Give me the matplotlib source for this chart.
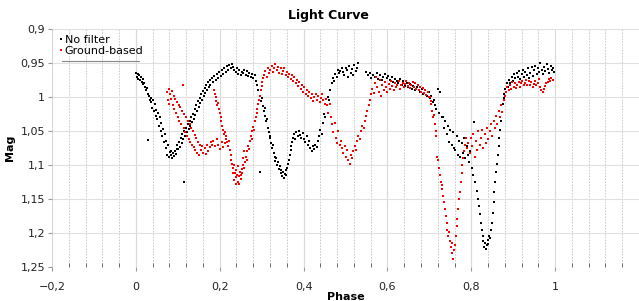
import matplotlib
matplotlib.use("Agg")
from matplotlib import pyplot as plt
from matplotlib.lines import Line2D
from matplotlib.ticker import FuncFormatter, MultipleLocator

# No filter (black)
nofilter_phase = [
    0.000, 0.002, 0.004, 0.006, 0.008, 0.010, 0.012, 0.014, 0.016, 0.018,
    0.020, 0.022, 0.024, 0.026, 0.028, 0.029, 0.031, 0.033, 0.035, 0.037,
    0.039, 0.041, 0.043, 0.045, 0.047, 0.049, 0.051, 0.053, 0.055, 0.057,
    0.059, 0.061, 0.063, 0.065, 0.067, 0.069, 0.071, 0.073, 0.075, 0.077,
    0.079, 0.081, 0.083, 0.085, 0.087, 0.089, 0.091, 0.093, 0.095, 0.097,
    0.099, 0.101, 0.103, 0.105, 0.107, 0.109, 0.111, 0.113, 0.114, 0.116,
    0.118, 0.120, 0.122, 0.124, 0.126, 0.128, 0.130, 0.132, 0.134, 0.136,
    0.138, 0.140, 0.142, 0.144, 0.146, 0.148, 0.150, 0.152, 0.154, 0.156,
    0.158, 0.160, 0.162, 0.164, 0.166, 0.168, 0.170, 0.172, 0.174, 0.176,
    0.178, 0.181, 0.184, 0.187, 0.190, 0.193, 0.196, 0.199, 0.202, 0.205,
    0.208, 0.211, 0.214, 0.217, 0.220, 0.223, 0.226, 0.229, 0.232, 0.235,
    0.238, 0.241, 0.244, 0.247, 0.250, 0.253, 0.256, 0.259, 0.262, 0.265,
    0.268, 0.271, 0.274, 0.277, 0.280, 0.283, 0.286, 0.289, 0.292, 0.295,
    0.297, 0.299, 0.301, 0.303, 0.305, 0.307, 0.309, 0.311, 0.313, 0.315,
    0.317, 0.319, 0.321, 0.323, 0.325, 0.327, 0.329, 0.331, 0.333, 0.335,
    0.337, 0.339, 0.341, 0.343, 0.345, 0.347, 0.349, 0.351, 0.353, 0.355,
    0.357, 0.359, 0.361, 0.363, 0.365, 0.367, 0.369, 0.371, 0.373, 0.375,
    0.377, 0.380, 0.383, 0.386, 0.389, 0.392, 0.395, 0.398, 0.401, 0.404,
    0.407, 0.410, 0.413, 0.416, 0.419, 0.422, 0.425, 0.428, 0.431, 0.434,
    0.437, 0.440, 0.443, 0.446, 0.449, 0.452, 0.455, 0.458, 0.461, 0.464,
    0.467, 0.470, 0.473, 0.476, 0.479, 0.482, 0.485, 0.488, 0.491, 0.494,
    0.497, 0.500, 0.503, 0.506, 0.509, 0.512, 0.515, 0.518, 0.521, 0.524,
    0.527, 0.530, 0.550, 0.554, 0.558, 0.562, 0.566, 0.570, 0.574, 0.578,
    0.582, 0.586, 0.590, 0.594, 0.598, 0.602, 0.606, 0.610, 0.614, 0.618,
    0.622, 0.626, 0.630, 0.634, 0.638, 0.642, 0.646, 0.650, 0.654, 0.658,
    0.662, 0.666, 0.670, 0.674, 0.678, 0.682, 0.686, 0.690, 0.694, 0.698,
    0.702, 0.705, 0.708, 0.711, 0.714, 0.717, 0.720, 0.723, 0.726, 0.729,
    0.732, 0.735, 0.738, 0.741, 0.744, 0.747, 0.750, 0.753, 0.756, 0.759,
    0.762, 0.765, 0.768, 0.771, 0.774, 0.777, 0.780, 0.783, 0.786, 0.789,
    0.792, 0.795, 0.798, 0.801, 0.804, 0.807, 0.810, 0.813, 0.816, 0.819,
    0.821, 0.823, 0.825, 0.827, 0.829, 0.831, 0.833, 0.835, 0.837, 0.839,
    0.841, 0.843, 0.845, 0.847, 0.849, 0.851, 0.853, 0.855, 0.857, 0.859,
    0.861, 0.863, 0.865, 0.867, 0.869, 0.871, 0.873, 0.875, 0.877, 0.879,
    0.881, 0.884, 0.887, 0.890, 0.893, 0.896, 0.899, 0.902, 0.905, 0.908,
    0.911, 0.914, 0.917, 0.920, 0.923, 0.926, 0.929, 0.932, 0.935, 0.938,
    0.941, 0.944, 0.947, 0.950, 0.953, 0.956, 0.959, 0.962, 0.965, 0.968,
    0.971, 0.974, 0.977, 0.980, 0.983, 0.986, 0.989, 0.992, 0.995, 0.998,
]
nofilter_mag = [
    0.964, 0.970, 0.966, 0.973, 0.968, 0.975, 0.971, 0.978, 0.974, 0.981,
    0.979, 0.986, 0.990, 0.987, 0.995, 1.063, 0.999, 1.004, 1.001, 1.008,
    1.016, 1.004, 1.020, 1.010, 1.028, 1.019, 1.032, 1.024, 1.042, 1.030,
    1.050, 1.038, 1.058, 1.047, 1.066, 1.055, 1.075, 1.064, 1.085, 1.070,
    1.088, 1.081, 1.085, 1.079, 1.090, 1.083, 1.087, 1.080, 1.084, 1.077,
    1.070, 1.077, 1.066, 1.073, 1.060, 1.068, 1.055, 1.062, 1.125, 1.050,
    1.058, 1.045, 1.052, 1.040, 1.047, 1.035, 1.042, 1.030, 1.037, 1.025,
    1.032, 1.018, 1.026, 1.012, 1.020, 1.006, 1.014, 1.002, 1.009, 0.996,
    1.004, 0.991, 0.999, 0.987, 0.994, 0.983, 0.990, 0.978, 0.986, 0.975,
    0.982, 0.972, 0.978, 0.969, 0.975, 0.966, 0.972, 0.963, 0.969, 0.960,
    0.966, 0.958, 0.963, 0.955, 0.961, 0.953, 0.958, 0.951, 0.956, 0.960,
    0.963, 0.958, 0.966, 0.961, 0.968, 0.963, 0.965, 0.960, 0.967, 0.962,
    0.969, 0.964, 0.970, 0.966, 0.972, 0.968, 0.976, 0.982, 0.990, 1.110,
    0.998, 1.006, 1.002, 1.013, 1.020, 1.016, 1.028, 1.036, 1.032, 1.045,
    1.052, 1.060, 1.057, 1.068, 1.075, 1.071, 1.082, 1.088, 1.094, 1.090,
    1.100, 1.096, 1.106, 1.102, 1.112, 1.108, 1.116, 1.110, 1.119, 1.113,
    1.107, 1.115, 1.104, 1.098, 1.092, 1.085, 1.078, 1.072, 1.066, 1.060,
    1.055, 1.062, 1.052, 1.058, 1.050, 1.056, 1.060, 1.053, 1.062, 1.066,
    1.058, 1.070, 1.064, 1.075, 1.079, 1.072, 1.076, 1.070, 1.074, 1.064,
    1.058, 1.048, 1.055, 1.038, 1.025, 1.030, 1.012, 1.000, 1.005, 0.990,
    0.980, 0.972, 0.976, 0.966, 0.970, 0.960, 0.965, 0.962, 0.957, 0.963,
    0.968, 0.958, 0.961, 0.970, 0.955, 0.964, 0.959, 0.967, 0.953, 0.962,
    0.957, 0.950, 0.963, 0.968, 0.965, 0.972, 0.967, 0.970, 0.965, 0.973,
    0.968, 0.975, 0.970, 0.966, 0.972, 0.969, 0.975, 0.971, 0.978, 0.973,
    0.976, 0.980, 0.974, 0.982, 0.977, 0.984, 0.979, 0.986, 0.981, 0.988,
    0.984, 0.990, 0.986, 0.982, 0.992, 0.988, 0.995, 0.990, 0.999, 0.993,
    1.002, 0.998, 1.008, 1.004, 1.012, 1.018, 0.988, 1.024, 0.993, 1.030,
    1.030, 1.045, 1.036, 1.055, 1.042, 1.066, 1.048, 1.070, 1.052, 1.075,
    1.078, 1.058, 1.085, 1.064, 1.088, 1.068, 1.082, 1.060, 1.090, 1.072,
    1.086, 1.095, 1.080, 1.105, 1.115, 1.037, 1.125, 1.138, 1.150, 1.160,
    1.172, 1.185, 1.196, 1.205, 1.212, 1.220, 1.215, 1.224, 1.218, 1.210,
    1.216, 1.205, 1.208, 1.196, 1.185, 1.170, 1.155, 1.140, 1.125, 1.110,
    1.098, 1.085, 1.072, 1.060, 1.048, 1.035, 1.022, 1.010, 1.002, 0.995,
    0.988, 0.980, 0.985, 0.975, 0.979, 0.970, 0.976, 0.966, 0.972, 0.964,
    0.970, 0.962, 0.974, 0.966, 0.960, 0.971, 0.963, 0.968, 0.958, 0.972,
    0.964, 0.956, 0.969, 0.960, 0.955, 0.966, 0.958, 0.963, 0.950, 0.960,
    0.966, 0.956, 0.962, 0.952, 0.959, 0.965, 0.955, 0.961, 0.957, 0.963,
]

# Ground-based (red)
ground_phase = [
    0.074, 0.076, 0.078, 0.080, 0.082, 0.084, 0.086, 0.088, 0.090, 0.092,
    0.094, 0.096, 0.098, 0.100, 0.102, 0.104, 0.106, 0.108, 0.110, 0.112,
    0.114, 0.116, 0.118, 0.120, 0.122, 0.124, 0.126, 0.128, 0.130, 0.132,
    0.134, 0.136, 0.138, 0.140, 0.142, 0.144, 0.146, 0.148, 0.150, 0.152,
    0.155, 0.158, 0.161, 0.164, 0.167, 0.170, 0.173, 0.176, 0.179, 0.182,
    0.186, 0.188, 0.190, 0.192, 0.194, 0.196, 0.198, 0.200, 0.202, 0.204,
    0.206, 0.208, 0.210, 0.212, 0.214, 0.216, 0.218, 0.220, 0.222, 0.224,
    0.185, 0.189, 0.193, 0.197, 0.201, 0.205, 0.209, 0.213,
    0.226, 0.228, 0.230, 0.232, 0.234, 0.236, 0.238, 0.240, 0.242, 0.244,
    0.246, 0.248, 0.250, 0.252, 0.254, 0.256, 0.258, 0.260, 0.262, 0.264,
    0.231, 0.235, 0.239, 0.243, 0.247, 0.251, 0.255, 0.259,
    0.266, 0.268, 0.270, 0.272, 0.274, 0.276, 0.278, 0.280, 0.282, 0.284,
    0.286, 0.288, 0.290, 0.292, 0.294, 0.296, 0.298, 0.300, 0.302, 0.304,
    0.306, 0.309, 0.312, 0.315, 0.318, 0.321, 0.324, 0.327, 0.330, 0.333,
    0.336, 0.339, 0.342, 0.345, 0.348, 0.351, 0.354, 0.357, 0.360, 0.363,
    0.366, 0.369, 0.372, 0.375, 0.378, 0.381, 0.384, 0.387, 0.390, 0.393,
    0.396, 0.399, 0.402, 0.405, 0.408, 0.411, 0.414, 0.417, 0.420, 0.423,
    0.426, 0.429, 0.432, 0.435, 0.438, 0.441, 0.444, 0.447, 0.450, 0.453,
    0.456, 0.459, 0.462, 0.465, 0.468, 0.471, 0.474, 0.477, 0.480, 0.483,
    0.486, 0.489, 0.492, 0.495, 0.498, 0.501, 0.504, 0.507, 0.510, 0.513,
    0.516, 0.519, 0.522, 0.525, 0.528, 0.531, 0.534, 0.537, 0.540, 0.543,
    0.546, 0.549, 0.552, 0.555, 0.558, 0.561,
    0.564, 0.567, 0.570, 0.573, 0.576, 0.579, 0.582, 0.585, 0.588, 0.591,
    0.594, 0.597, 0.600, 0.603, 0.606, 0.609, 0.612, 0.615, 0.618, 0.621,
    0.624, 0.627, 0.630, 0.633, 0.636, 0.639, 0.642, 0.645, 0.648, 0.651,
    0.654, 0.657, 0.660, 0.663, 0.666, 0.669, 0.672, 0.675, 0.678, 0.681,
    0.684, 0.687, 0.690, 0.693, 0.696, 0.699,
    0.701, 0.703, 0.705, 0.707, 0.709, 0.711, 0.713, 0.715, 0.717, 0.719,
    0.721, 0.723, 0.725, 0.727, 0.729, 0.731, 0.733, 0.735, 0.737, 0.739,
    0.741, 0.743, 0.745, 0.747, 0.749, 0.751, 0.753, 0.755, 0.757, 0.759,
    0.761, 0.763, 0.765, 0.767, 0.769, 0.771, 0.773, 0.775, 0.777, 0.779,
    0.781, 0.783, 0.785, 0.787,
    0.790, 0.793, 0.796, 0.799, 0.802, 0.805, 0.808, 0.811, 0.814, 0.817,
    0.820, 0.823, 0.826, 0.829, 0.832, 0.835, 0.838, 0.841, 0.844, 0.847,
    0.850, 0.853, 0.856, 0.859, 0.862, 0.865, 0.868, 0.871, 0.874, 0.877,
    0.880, 0.883, 0.886, 0.889, 0.892, 0.895, 0.898, 0.901, 0.904, 0.907,
    0.910, 0.913, 0.916, 0.919, 0.922, 0.925, 0.928, 0.931, 0.934, 0.937,
    0.940, 0.943, 0.946, 0.949, 0.952, 0.955, 0.958, 0.961, 0.964, 0.967,
    0.970, 0.973, 0.976, 0.979, 0.982, 0.985, 0.988, 0.991, 0.994,
]
ground_mag = [
    0.993, 1.004, 0.988, 1.010, 0.996, 1.003, 0.991, 1.012, 0.998, 1.018,
    1.003, 1.024, 1.008, 1.030, 1.012, 1.036, 1.015, 1.040, 1.020, 0.982,
    1.046, 1.025, 1.052, 1.030, 1.058, 1.036, 1.062, 1.040, 1.066, 1.045,
    1.070, 1.050, 1.074, 1.056, 1.078, 1.060, 1.082, 1.066, 1.085, 1.070,
    1.078, 1.072, 1.082, 1.075, 1.084, 1.070, 1.080, 1.074, 1.066, 1.071,
    0.990, 0.996, 1.000, 1.006, 1.012, 1.009, 1.018, 1.024, 1.030, 1.036,
    1.042, 1.048, 1.055, 1.052, 1.062, 1.058, 1.066, 1.072, 1.064, 1.078,
    1.065, 1.072, 1.062, 1.070, 1.076, 1.066, 1.074, 1.068,
    1.085, 1.092, 1.098, 1.105, 1.100, 1.112, 1.108, 1.118, 1.114, 1.125,
    1.116, 1.110, 1.120, 1.106, 1.112, 1.100, 1.104, 1.095, 1.088, 1.092,
    1.112, 1.122, 1.128, 1.102, 1.128, 1.115, 1.090, 1.080,
    1.080, 1.072, 1.076, 1.065, 1.058, 1.062, 1.050, 1.044, 1.048, 1.036,
    1.030, 1.024, 1.018, 1.010, 1.004, 0.998, 0.990, 0.984, 0.978, 0.972,
    0.968, 0.962, 0.970, 0.958, 0.965, 0.960, 0.955, 0.963, 0.958, 0.952,
    0.960, 0.956, 0.964, 0.958, 0.966, 0.962, 0.957, 0.968, 0.963, 0.970,
    0.966, 0.973, 0.968, 0.976, 0.971, 0.980, 0.975, 0.984, 0.978, 0.988,
    0.982, 0.992, 0.986, 0.995, 0.990, 0.998, 0.993, 1.002, 0.996, 1.006,
    1.000, 0.995, 1.004, 0.998, 1.008, 1.002, 0.996, 1.005, 1.010, 1.003,
    1.012, 1.024, 1.010, 1.030, 1.040, 1.052, 1.038, 1.060, 1.068, 1.050,
    1.070, 1.065, 1.075, 1.082, 1.072, 1.088, 1.078, 1.092, 1.098, 1.085,
    1.090, 1.080, 1.072, 1.078, 1.065, 1.058, 1.062, 1.050, 1.042, 1.046,
    1.035, 1.028, 1.020, 1.012, 1.004, 0.996,
    0.988, 0.994, 0.980, 0.970, 0.985, 0.992, 0.975, 0.998, 0.983, 0.990,
    0.978, 0.986, 0.993, 0.981, 0.988, 0.976, 0.984, 0.990, 0.979, 0.986,
    0.982, 0.977, 0.988, 0.983, 0.979, 0.986, 0.981, 0.976, 0.984, 0.980,
    0.987, 0.982, 0.978, 0.985, 0.980, 0.988, 0.983, 0.990, 0.985, 0.992,
    0.987, 0.994, 0.990, 0.997, 0.992, 1.000,
    1.000, 1.010, 1.006, 1.020, 1.030, 1.026, 1.040, 1.050, 1.058, 1.088,
    1.092, 1.105, 1.115, 1.125, 1.135, 1.130, 1.145, 1.155, 1.165, 1.175,
    1.185, 1.195, 1.205, 1.198, 1.212, 1.220, 1.230, 1.215, 1.238, 1.225,
    1.218, 1.205, 1.190, 1.180, 1.165, 1.150, 1.140, 1.125, 1.112, 1.100,
    1.090, 1.080, 1.070, 1.060,
    1.075, 1.068, 1.082, 1.060, 1.072, 1.055, 1.088, 1.065, 1.078, 1.050,
    1.070, 1.060, 1.048, 1.075, 1.055, 1.068, 1.045, 1.062, 1.050, 1.040,
    1.058, 1.035, 1.046, 1.028, 1.040, 1.020, 1.030, 1.012, 1.022, 1.005,
    0.998, 0.992, 0.985, 0.990, 0.982, 0.988, 0.978, 0.985, 0.980, 0.987,
    0.982, 0.978, 0.985, 0.980, 0.976, 0.983, 0.979, 0.975, 0.982, 0.977,
    0.983, 0.978, 0.985, 0.981, 0.976, 0.983, 0.979, 0.974, 0.985, 0.990,
    0.992, 0.988, 0.984, 0.980, 0.978, 0.974, 0.977, 0.972, 0.975,
]

labels = ["No filter", "Ground-based"]
x_ticks = [-0.2, 0, 0.2, 0.4, 0.6, 0.8, 1]
y_ticks = [0.9, 0.95, 1, 1.05, 1.1, 1.15, 1.2, 1.25]


def comma(v, pos):
    s = "%g" % round(v, 3)
    return s.replace(".", ",").replace("-", "\u2212")


fig = plt.figure(figsize=(6.39, 3.01), dpi=100)
ax = fig.add_axes([52 / 639, 34 / 301, 587 / 639, 238 / 301])
ax.plot(nofilter_phase, nofilter_mag, "s", color="black", ms=2.1, mew=0, label=labels[0])
ax.plot(ground_phase, ground_mag, "s", color="red", ms=2.1, mew=0, label=labels[1])

ax.set_xlim(-0.2, 1.2)
ax.set_ylim(1.25, 0.9)
ax.set_xticks(x_ticks)
ax.set_yticks(y_ticks)
ax.xaxis.set_minor_locator(MultipleLocator(0.04))
ax.xaxis.set_major_formatter(FuncFormatter(comma))
ax.yaxis.set_major_formatter(FuncFormatter(comma))

ax.grid(axis="y", color="#e0e0e0", lw=0.8)
ax.grid(axis="x", which="major", color="#d8d8d8", lw=0.8)
ax.grid(axis="x", which="minor", color="#c4c4c4", lw=0.6, ls=(0, (2, 1.5)))
ax.set_axisbelow(True)
for s in ax.spines.values():
    s.set_visible(False)
ax.tick_params(axis="both", which="major", labelsize=8, length=3, color="#999999", labelcolor="#222222")
ax.tick_params(axis="y", pad=2)
ax.tick_params(axis="x", which="major", pad=8)
ax.tick_params(axis="x", which="minor", direction="in", length=3, color="#555555")

ax.set_xlabel("Phase", fontsize=8, fontweight="bold", labelpad=0)
ax.set_ylabel("Mag", fontsize=8, fontweight="bold")
ax.yaxis.set_label_coords(-37 / 587, 0.5)
fig.text(328 / 639, 1 - 15 / 301, "Light Curve", ha="center", va="center", fontsize=9, fontweight="bold")

fig.legend(loc="upper left", bbox_to_anchor=(59 / 639, 1 - 35 / 301), frameon=False, fontsize=8,
           handlelength=0.3, handletextpad=0.2, labelspacing=0.1, borderpad=0, borderaxespad=0)
fig.add_artist(Line2D([62 / 639, 139 / 639], [1 - 61 / 301, 1 - 61 / 301], transform=fig.transFigure,
                      color="#888888", lw=0.8))

fig.savefig("out.png", dpi=100)
